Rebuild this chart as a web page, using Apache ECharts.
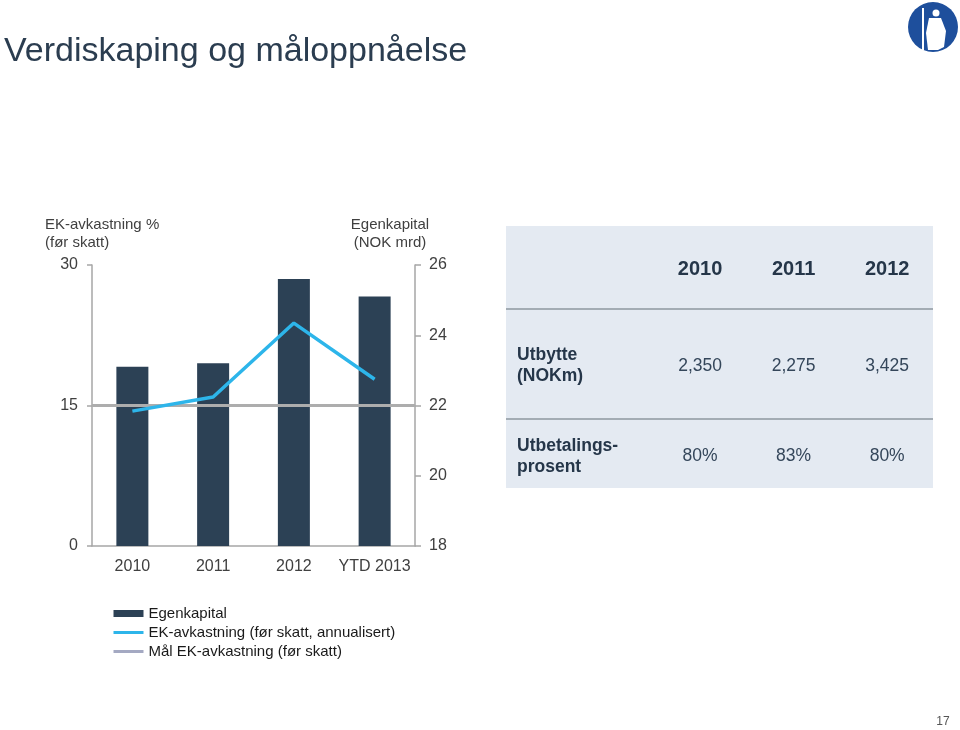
<!DOCTYPE html>
<html><head><meta charset="utf-8">
<script src="https://cdn.jsdelivr.net/npm/echarts@6/dist/echarts.min.js"></script>
<style>html,body{margin:0;padding:0;background:#fff}#c{width:960px;height:730px}</style>
</head><body><div id="c"></div>
<script>
// ---- data ----
const categories = ['2010', '2011', '2012', 'YTD 2013'];
const egenkapital = [23.1, 23.2, 25.6, 25.1];          // NOK mrd (right axis)
const ekAvkastning = [14.4, 15.9, 23.8, 17.8];         // % (left axis)
const malEkAvkastning = 15;                            // target %
const tableYears = ['2010', '2011', '2012'];
const tableRowLabels = ['Utbytte\n(NOKm)', 'Utbetalings-\nprosent'];
const utbytte = [2350, 2275, 3425];
const utbetalingsprosent = [80, 83, 80];

const FONT = 'Liberation Sans, Arial, sans-serif';
const chart = echarts.init(document.getElementById('c'), null, { renderer: 'canvas' });

const hidden = { color: 'rgba(0,0,0,0)', borderWidth: 0 };
const rowShift = [0, 3, 0];
const headerData = tableYears.map((y, i) => ({ name: y, value: [i + 2, 0] }));
const rowLabelData = tableRowLabels.map((t, i) => ({ name: t, value: [0, i + 1], label: { offset: [4, rowShift[i + 1]] } }));
const valueData = [
  ...utbytte.map((v, i) => ({ name: v.toLocaleString('en-US'), value: [i + 2, 1], label: { offset: [0, rowShift[1]] } })),
  ...utbetalingsprosent.map((v, i) => ({ name: v + '%', value: [i + 2, 2] }))
];
const cellLabel = (extra) => Object.assign({
  show: true, position: 'inside', formatter: '{b}', fontFamily: FONT,
  textBorderWidth: 0, textShadowBlur: 0, opacity: 1
}, extra);

const option = {
  animation: false,
  textStyle: { fontFamily: FONT },
  legend: {
    orient: 'vertical', left: 112, top: 606, padding: 0, itemWidth: 30, itemHeight: 7, itemGap: 4,
    textStyle: { fontSize: 15, color: '#1a1a1a', fontFamily: FONT },
    data: [
      { name: 'Egenkapital', icon: 'rect' },
      { name: 'EK-avkastning (før skatt, annualisert)', itemStyle: { opacity: 0 }, lineStyle: { width: 3 } },
      { name: 'Mål EK-avkastning (før skatt)', itemStyle: { opacity: 0 }, lineStyle: { width: 3 } }
    ]
  },
  grid: [
    { left: 92, top: 265, width: 323, height: 281 },
    { left: 506, top: 226, width: 427, height: 262, show: true, backgroundColor: '#E4EAF2', borderWidth: 0 }
  ],
  xAxis: [
    {
      type: 'category', gridIndex: 0, data: categories,
      axisLine: { lineStyle: { color: '#A6A6A6', width: 1.5 } },
      axisTick: { show: false },
      axisLabel: { interval: 0, fontSize: 16, color: '#404040', margin: 13, fontFamily: FONT }
    },
    { type: 'value', gridIndex: 1, min: -0.075, max: 4.49, show: false }
  ],
  yAxis: [
    {
      type: 'value', gridIndex: 0, position: 'left', min: 0, max: 30, interval: 15,
      axisLine: { show: true, lineStyle: { color: '#A6A6A6', width: 1.5 } },
      axisTick: { show: true, length: 5, lineStyle: { color: '#A6A6A6', width: 1.5 } },
      axisLabel: { fontSize: 16, color: '#404040', margin: 14, fontFamily: FONT },
      splitLine: { show: false }
    },
    {
      type: 'value', gridIndex: 0, position: 'right', min: 18, max: 26, interval: 2,
      axisLine: { show: true, lineStyle: { color: '#A6A6A6', width: 1.5 } },
      axisTick: { show: true, length: 6, lineStyle: { color: '#A6A6A6', width: 1.5 } },
      axisLabel: { fontSize: 16, color: '#404040', margin: 14, fontFamily: FONT },
      splitLine: { show: false }
    },
    { type: 'value', gridIndex: 1, inverse: true, min: -0.465, max: 2.337, show: false }
  ],
  series: [
    {
      name: 'Egenkapital', type: 'bar', xAxisIndex: 0, yAxisIndex: 1,
      data: egenkapital, barWidth: 32, itemStyle: { color: '#2C4155' }, z: 2
    },
    {
      name: 'Mål EK-avkastning (før skatt)', type: 'line', xAxisIndex: 0, yAxisIndex: 0,
      data: [], symbol: 'none', color: '#A4A9C2', lineStyle: { color: '#A4A9C2', width: 3 }, z: 4,
      markLine: {
        silent: true, symbol: ['none', 'none'], label: { show: false },
        lineStyle: { color: '#ADADAD', width: 3, type: 'solid' },
        data: [{ yAxis: malEkAvkastning }], z: 4
      }
    },
    {
      name: 'EK-avkastning (før skatt, annualisert)', type: 'line', xAxisIndex: 0, yAxisIndex: 0,
      data: ekAvkastning, symbol: 'none', color: '#2DB5EA',
      lineStyle: { color: '#2DB5EA', width: 3.5 }, z: 6
    },
    {
      name: 'tableHeader', type: 'scatter', xAxisIndex: 1, yAxisIndex: 2, data: headerData,
      symbolSize: 1, itemStyle: hidden, silent: true, z: 10,
      label: cellLabel({ fontSize: 20, fontWeight: 'bold', color: '#253649' }),
      markLine: {
        silent: true, symbol: ['none', 'none'], label: { show: false },
        lineStyle: { color: '#8E979F', width: 1.5, type: 'solid' },
        data: [{ yAxis: 0.42 }, { yAxis: 1.6 }]
      }
    },
    {
      name: 'tableRows', type: 'scatter', xAxisIndex: 1, yAxisIndex: 2, data: rowLabelData,
      symbolSize: 1, itemStyle: hidden, silent: true, z: 10,
      label: cellLabel({ align: 'left', fontSize: 17.5, lineHeight: 21, fontWeight: 'bold', color: '#253649' })
    },
    {
      name: 'tableValues', type: 'scatter', xAxisIndex: 1, yAxisIndex: 2, data: valueData,
      symbolSize: 1, itemStyle: hidden, silent: true, z: 10,
      label: cellLabel({ fontSize: 17.5, color: '#34465A' })
    }
  ],
  graphic: [
    { type: 'text', x: 4, y: 52, style: { text: 'Verdiskaping og måloppnåelse', font: '34px ' + FONT, fill: '#2B3D50', textVerticalAlign: 'middle' } },
    { type: 'text', x: 45, y: 216, style: { text: 'EK-avkastning %\n(før skatt)', font: '15px ' + FONT, fill: '#404040', lineHeight: 18, textVerticalAlign: 'top' } },
    { type: 'text', x: 390, y: 216, style: { text: 'Egenkapital\n(NOK mrd)', font: '15px ' + FONT, fill: '#404040', lineHeight: 18, textAlign: 'center', textVerticalAlign: 'top' } },
    { type: 'text', x: 943, y: 722, style: { text: '17', font: '12px ' + FONT, fill: '#555', textAlign: 'center', textVerticalAlign: 'middle' } },
    { type: 'circle', shape: { cx: 933, cy: 27, r: 25 }, style: { fill: '#1E4F9C' } },
    { type: 'rect', shape: { x: 922, y: 8, width: 2, height: 42 }, style: { fill: '#fff' } },
    { type: 'circle', shape: { cx: 936, cy: 13, r: 3.5 }, style: { fill: '#fff' } },
    { type: 'polygon', shape: { points: [[929, 18], [941, 18], [946, 31], [944, 47], [938, 50], [928, 50], [926, 33]] }, style: { fill: '#fff' } }
  ]
};
chart.setOption(option);
</script>
</body></html>
